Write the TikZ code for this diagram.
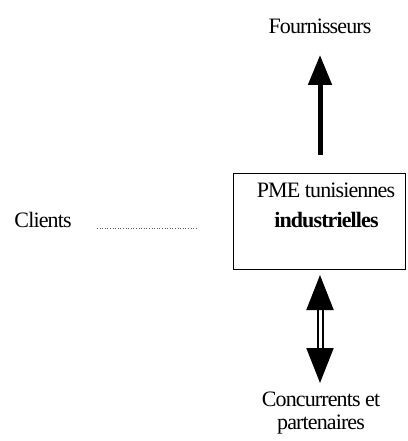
\documentclass[tikz,border=0pt]{standalone}
\usepackage{fontspec}
\setmainfont{Liberation Serif}
\newfontfamily\tight[LetterSpace=-4]{Liberation Serif}
\usetikzlibrary{arrows.meta}
\begin{document}
\begin{tikzpicture}[x=1pt,y=-1pt,
  lbl/.style={font=\tight\fontsize{22}{26}\selectfont, inner sep=0pt, align=center},
  boxst/.style={draw, line width=1.3pt, minimum width=172pt, minimum height=96pt, inner sep=0pt},
  bigarrow/.style={line width=5pt, -{Triangle[width=23pt,length=30pt]}},
  dblarrow/.style={double, line width=2pt, double distance=3pt, {Triangle[width=27pt,length=35pt]}-{Triangle[width=27pt,length=35pt]}},
  dots/.style={dotted, line width=0.6pt, gray!70!black}]
\useasboundingbox (0,0) rectangle (407,441);
\node[boxst, anchor=north west] (pme) at (233,173) {};
\node[lbl] (pmet) at (326,205.5) {PME tunisiennes\\[4pt]\textbf{industrielles}};
\node[lbl, anchor=base] (four) at (320,34) {Fournisseurs};
\node[lbl, anchor=base] (cli) at (43,227) {Clients};
\node[lbl, font=\tight\fontsize{22}{23}\selectfont] (conc) at (321,413) {Concurrents et\\partenaires};
\coordinate (upS) at (320,155);
\coordinate (upE) at (320,55);
\coordinate (dA) at (320,275);
\coordinate (dB) at (320,383);
\coordinate (c1) at (97,228);
\coordinate (c2) at (196,228);
\draw[bigarrow] (upS) -- (upE);
\draw[dblarrow] (dA) -- (dB);
\draw[dots] (c1) -- (c2);
\end{tikzpicture}
\end{document}
